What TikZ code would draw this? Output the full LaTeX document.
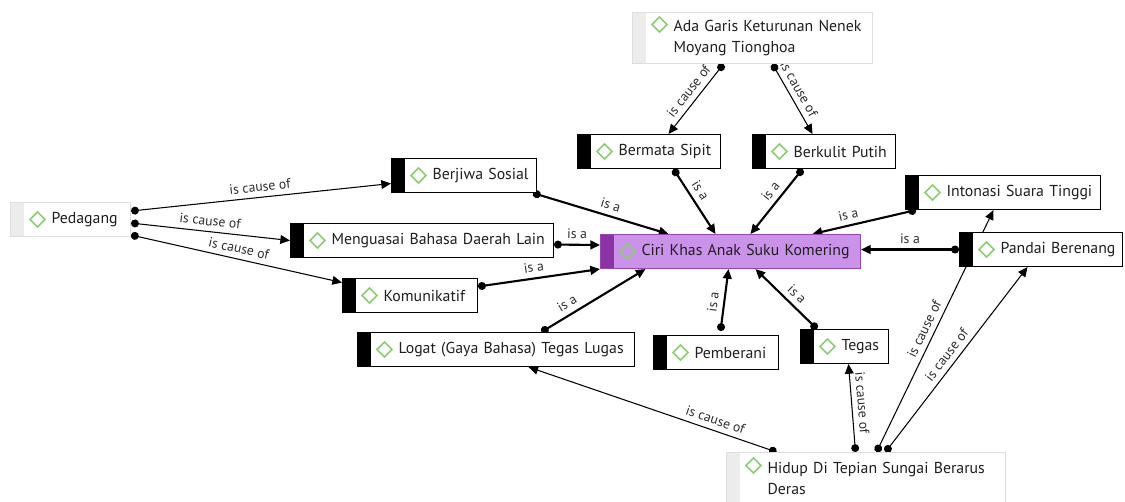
\documentclass[tikz,border=0pt]{standalone}
\usepackage{fontspec}
\setmainfont{PT Sans}
\usetikzlibrary{arrows.meta,calc}
\definecolor{dmdgreen}{RGB}{140,205,115}
\definecolor{lightband}{RGB}{236,236,236}
\definecolor{lightline}{RGB}{222,222,222}
\definecolor{focusfill}{RGB}{203,146,233}
\definecolor{focusband}{RGB}{140,50,165}
\definecolor{focusline}{RGB}{150,70,175}
\definecolor{labelgray}{RGB}{45,45,45}
\pgfdeclarelayer{background}
\pgfsetlayers{background,main}
\newcommand{\conceptfont}{\fontsize{9}{12}\selectfont}
\tikzset{
  bandfill/.store in=\bandfill, bandfill=black,
  dmdy/.store in=\dmdy, dmdy=0.34cm,
  concept/.style={draw=black, line width=0.6pt, fill=white, text=black!88,
    anchor=north west, inner xsep=0pt, inner ysep=1pt, minimum height=0.68cm,
    text width=#1, align=left, font=\conceptfont,
    execute at begin node={\leftskip=0.82cm},
    path picture={
      \fill[fill=\bandfill] (path picture bounding box.north west)
        rectangle ([xshift=0.26cm]path picture bounding box.south west);
      \draw[dmdgreen, line width=0.9pt]
        ([xshift=0.54cm,yshift=-\dmdy]path picture bounding box.north west)
        ++(-0.15cm,0) -- ++(0.15cm,0.15cm) -- ++(0.15cm,-0.15cm)
        -- ++(-0.15cm,-0.15cm) -- cycle;
    }},
  origin/.style={concept=#1, draw=lightline, bandfill=lightband},
  focus/.style={concept=#1, draw=focusline, fill=focusfill, bandfill=focusband},
  isa/.style={line width=1.2pt, {Circle[length=4.5pt]}-{Triangle[length=5.5pt,width=5pt]}},
  cause/.style={line width=0.6pt, {Circle[length=4.5pt]}-{Triangle[length=5.5pt,width=5pt]}},
  lbl/.style={font=\fontsize{7.8}{9}\selectfont, text=labelgray, sloped, above, inner sep=3pt}
}
\begin{document}
\begin{tikzpicture}[x=0.02cm,y=-0.02cm]
  \useasboundingbox (0,0) rectangle (1125,501);
  \node[origin=4.8cm, minimum height=1.02cm, dmdy=0.24cm] (ada) at (632,12) {Ada Garis Keturunan Nenek\\Moyang Tionghoa};
  \node[concept=2.86cm] (bermata) at (577,134) {Bermata Sipit};
  \node[concept=2.86cm] (berkulit) at (752,134) {Berkulit Putih};
  \node[concept=2.9cm] (berjiwa) at (391,158) {Berjiwa Sosial};
  \node[concept=3.9cm] (intonasi) at (905,175) {Intonasi Suara Tinggi};
  \node[origin=2.4cm] (pedagang) at (10,202) {Pedagang};
  \node[concept=5.26cm] (menguasai) at (290,223) {Menguasai Bahasa Daerah Lain};
  \node[focus=5.2cm] (ciri) at (600,234) {Ciri Khas Anak Suku Komering};
  \node[concept=3.26cm] (pandai) at (959,232) {Pandai Berenang};
  \node[concept=2.7cm] (komunikatif) at (342,278) {Komunikatif};
  \node[concept=5.54cm] (logat) at (357,332) {Logat (Gaya Bahasa) Tegas Lugas};
  \node[concept=2.5cm] (pemberani) at (653,335) {Pemberani};
  \node[concept=1.76cm] (tegas) at (800,329) {Tegas};
  \node[origin=5.58cm, minimum height=1.04cm, dmdy=0.26cm] (hidup) at (726,452) {Hidup Di Tepian Sungai Berarus\\Deras};

  \begin{pgfonlayer}{background}
    \draw[cause] ([xshift=-0.58cm]ada.south) -- node[lbl,pos=0.48]{is cause of} ([xshift=0.39cm]bermata.north);
    \draw[cause] ([xshift=0.4cm]ada.south) -- node[lbl,pos=0.43]{is cause of} ([xshift=-0.23cm]berkulit.north);
    \draw[isa] ([xshift=0.49cm]bermata.south) -- node[lbl,pos=0.42]{is a} ([xshift=-0.3cm]ciri.north);
    \draw[isa] ([xshift=-0.43cm]berkulit.south) -- node[lbl,pos=0.45]{is a} ([xshift=0.4cm]ciri.north);
    \draw[isa] ([xshift=-0.08cm]berjiwa.south east) -- node[lbl,pos=0.55]{is a} ([xshift=-1.24cm]ciri.north);
    \draw[isa] ([yshift=-0.08cm]menguasai.east) -- node[lbl]{is a} ([yshift=0.13cm]ciri.west);
    \draw[isa] ([yshift=0.18cm]komunikatif.east) -- node[lbl,pos=0.47]{is a} (ciri.south west);
    \draw[isa] ([xshift=0.91cm]logat.north) -- node[lbl,pos=0.3]{is a} ([xshift=-1.7cm]ciri.south);
    \draw[isa] ([xshift=0.09cm,yshift=0.08cm]pemberani.north) -- node[lbl,pos=0.45]{is a} ([xshift=-0.04cm]ciri.south);
    \draw[isa] ([xshift=0.34cm]tegas.north west) -- node[lbl,pos=0.45]{is a} ([xshift=0.5cm]ciri.south);
    \draw[isa] ([xshift=0.22cm]intonasi.south west) -- node[lbl,pos=0.63]{is a} ([xshift=1.64cm]ciri.north);
    \draw[isa] (pandai.west) -- node[lbl]{is a} (pandai.west -| ciri.east);
    \draw[cause] ([yshift=0.17cm]pedagang.east) -- node[lbl]{is cause of} ([yshift=-0.16cm]berjiwa.west);
    \draw[cause] ([yshift=-0.07cm]pedagang.east) -- node[lbl,pos=0.49]{is cause of} (menguasai.west);
    \draw[cause] ([yshift=-0.31cm]pedagang.east) -- node[lbl]{is cause of} ([yshift=0.26cm]komunikatif.west);
    \draw[cause] ([xshift=-1.79cm]hidup.north) -- node[lbl,pos=0.26]{is cause of} ([xshift=0.65cm]logat.south);
    \draw[cause] ([xshift=-0.21cm]hidup.north) -- node[lbl,pos=0.55]{is cause of} ([xshift=0.08cm]tegas.south);
    \draw[cause] ([xshift=0.21cm]hidup.north) -- node[lbl,pos=0.49]{is cause of} ([xshift=-0.19cm]intonasi.south);
    \draw[cause] ([xshift=0.39cm]hidup.north) -- node[lbl,pos=0.49]{is cause of} ([xshift=-0.27cm]pandai.south);
  \end{pgfonlayer}
\end{tikzpicture}
\end{document}
